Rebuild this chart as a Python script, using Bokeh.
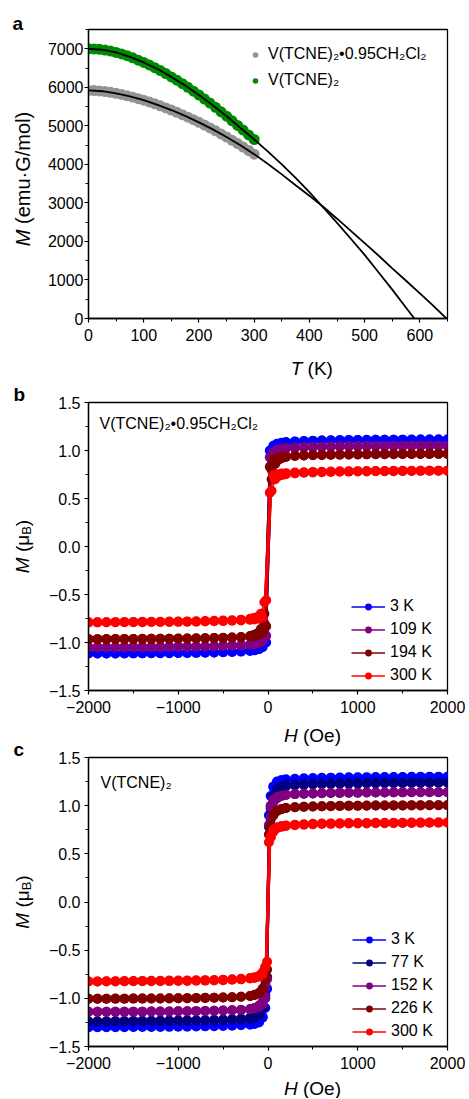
from math import pi
from bokeh.plotting import figure
from bokeh.models import (Range1d, FixedTicker, Label, Legend, LegendItem,
                          CustomJSTickFormatter)
from bokeh.layouts import column, row
from bokeh.embed import file_html
from bokeh.resources import INLINE

FONT = "Liberation Sans"
NB = "\u00a0"

# ---------------- Panel a data ----------------
T_meas = [0, 10, 20, 30, 40, 50, 60, 70, 80, 90, 100, 110, 120, 130, 140, 150,
          160, 170, 180, 190, 200, 210, 220, 230, 240, 250, 260, 270, 280, 290, 300]
M_solvate = [5920, 5915, 5905, 5890, 5870, 5845, 5815, 5780, 5745, 5705, 5665,
             5620, 5570, 5520, 5465, 5410, 5350, 5290, 5225, 5160, 5090, 5020,
             4945, 4870, 4790, 4710, 4625, 4540, 4450, 4360, 4265]
M_desolv = [7000, 6995, 6985, 6965, 6940, 6905, 6865, 6820, 6765, 6705, 6645,
            6580, 6510, 6435, 6355, 6270, 6185, 6095, 6000, 5900, 5800, 5695,
            5590, 5480, 5365, 5250, 5130, 5010, 4890, 4765, 4645]

T_fit_solvate = [0, 25, 50, 75, 100, 125, 150, 175, 200, 225, 250, 275, 300, 325,
                 350, 375, 400, 425, 450, 475, 500, 525, 550, 575, 600, 625, 648]
M_fit_solvate = [5920, 5898, 5845, 5762, 5665, 5545, 5410, 5258, 5090, 4908, 4710,
                 4495, 4265, 4010, 3740, 3460, 3185, 2900, 2590, 2275, 1955, 1635,
                 1300, 980, 650, 320, 0]
T_fit_desolv = [0, 25, 50, 75, 100, 125, 150, 175, 200, 225, 250, 275, 300, 325,
                350, 375, 400, 425, 450, 475, 500, 525, 550, 575, 590]
M_fit_desolv = [7000, 6975, 6905, 6790, 6645, 6475, 6270, 6045, 5800, 5535, 5250,
                4950, 4645, 4330, 4000, 3650, 3280, 2880, 2480, 2070, 1650, 1200,
                750, 280, 0]

LBL_SOLV = "V(TCNE)\u2082\u20220.95CH\u2082Cl\u2082"
LBL_DES = "V(TCNE)\u2082"

# ---------------- Panel b data (descending branch; ascending is its mirror) ----------------
H_b = [2000, 1900, 1800, 1700, 1600, 1500, 1400, 1300, 1200, 1100, 1000, 900, 800,
       700, 600, 500, 400, 300, 200, 150, 100, 60, 20, -40, -80, -120, -160, -200,
       -300, -400, -500, -600, -700, -800, -900, -1000, -1100, -1200, -1300, -1400,
       -1500, -1600, -1700, -1800, -1900, -2000]
M_b_3K = [1.115, 1.115, 1.115, 1.114, 1.114, 1.113, 1.113, 1.112, 1.112, 1.111, 1.110,
          1.109, 1.108, 1.106, 1.104, 1.102, 1.099, 1.095, 1.088, 1.082, 1.070, 1.050,
          1.000, -0.90, -1.03, -1.060, -1.075, -1.083, -1.092, -1.097, -1.100, -1.103,
          -1.105, -1.107, -1.108, -1.109, -1.110, -1.111, -1.112, -1.112, -1.113,
          -1.113, -1.114, -1.114, -1.115, -1.115]
M_b_109K = [1.050, 1.050, 1.050, 1.049, 1.049, 1.048, 1.048, 1.047, 1.047, 1.046, 1.045,
            1.044, 1.043, 1.041, 1.039, 1.037, 1.034, 1.030, 1.023, 1.017, 1.005, 0.985,
            0.93, -0.80, -0.96, -0.995, -1.010, -1.018, -1.027, -1.032, -1.035, -1.038,
            -1.040, -1.042, -1.043, -1.044, -1.045, -1.046, -1.047, -1.047, -1.048,
            -1.048, -1.049, -1.049, -1.050, -1.050]
M_b_194K = [0.965, 0.965, 0.965, 0.964, 0.964, 0.963, 0.963, 0.962, 0.962, 0.961, 0.960,
            0.959, 0.958, 0.956, 0.954, 0.952, 0.949, 0.945, 0.938, 0.932, 0.920, 0.900,
            0.83, -0.70, -0.86, -0.905, -0.922, -0.932, -0.942, -0.947, -0.950, -0.953,
            -0.955, -0.957, -0.958, -0.959, -0.960, -0.961, -0.962, -0.962, -0.963,
            -0.963, -0.964, -0.964, -0.965, -0.965]
M_b_300K = [0.790, 0.790, 0.790, 0.789, 0.789, 0.788, 0.788, 0.787, 0.787, 0.786, 0.785,
            0.784, 0.783, 0.781, 0.779, 0.777, 0.774, 0.770, 0.764, 0.760, 0.752, 0.740,
            0.56, -0.58, -0.70, -0.735, -0.745, -0.752, -0.762, -0.768, -0.771, -0.774,
            -0.776, -0.778, -0.780, -0.781, -0.782, -0.783, -0.784, -0.785, -0.786,
            -0.787, -0.788, -0.789, -0.790, -0.790]
labels_b = ["3 K", "109 K", "194 K", "300 K"]
colors_b = ["#0000ff", "#800080", "#800000", "#ff0000"]

# ---------------- Panel c data ----------------
H_c = [2000, 1900, 1800, 1700, 1600, 1500, 1400, 1300, 1200, 1100, 1000, 900, 800,
       700, 600, 500, 400, 300, 200, 150, 100, 60, 30, -10, -30, -60, -100, -150,
       -200, -300, -400, -500, -600, -700, -800, -900, -1000, -1100, -1200, -1300,
       -1400, -1500, -1600, -1700, -1800, -1900, -2000]
M_c_3K = [1.300, 1.300, 1.300, 1.299, 1.299, 1.298, 1.298, 1.297, 1.297, 1.296, 1.295,
          1.294, 1.293, 1.291, 1.289, 1.287, 1.284, 1.280, 1.273, 1.266, 1.250, 1.20,
          1.00, -0.90, -1.10, -1.19, -1.23, -1.250, -1.262, -1.272, -1.277, -1.280,
          -1.283, -1.285, -1.287, -1.288, -1.289, -1.290, -1.291, -1.292, -1.293,
          -1.294, -1.295, -1.296, -1.297, -1.298, -1.300]
M_c_77K = [1.240, 1.240, 1.240, 1.239, 1.239, 1.238, 1.238, 1.237, 1.237, 1.236, 1.235,
           1.234, 1.233, 1.231, 1.229, 1.227, 1.224, 1.220, 1.212, 1.200, 1.170, 1.10,
           0.86, -0.78, -0.97, -1.10, -1.16, -1.185, -1.200, -1.210, -1.216, -1.220,
           -1.223, -1.225, -1.227, -1.228, -1.229, -1.230, -1.231, -1.232, -1.233,
           -1.234, -1.235, -1.236, -1.237, -1.238, -1.240]
M_c_152K = [1.140, 1.140, 1.140, 1.139, 1.139, 1.138, 1.138, 1.137, 1.137, 1.136, 1.135,
            1.134, 1.133, 1.131, 1.129, 1.127, 1.124, 1.120, 1.112, 1.100, 1.075, 1.03,
            0.88, -0.80, -0.99, -1.06, -1.09, -1.103, -1.113, -1.120, -1.124, -1.127,
            -1.129, -1.131, -1.133, -1.134, -1.135, -1.136, -1.137, -1.137, -1.138,
            -1.138, -1.139, -1.139, -1.140, -1.140, -1.140]
M_c_226K = [1.005, 1.005, 1.005, 1.004, 1.004, 1.003, 1.003, 1.002, 1.002, 1.001, 1.000,
            0.999, 0.998, 0.996, 0.994, 0.992, 0.988, 0.983, 0.975, 0.965, 0.945, 0.90,
            0.76, -0.70, -0.80, -0.90, -0.945, -0.962, -0.975, -0.983, -0.988, -0.991,
            -0.993, -0.995, -0.997, -0.998, -0.999, -1.000, -1.001, -1.001, -1.002,
            -1.002, -1.003, -1.003, -1.004, -1.004, -1.005]
M_c_300K = [0.825, 0.825, 0.825, 0.824, 0.824, 0.823, 0.823, 0.822, 0.822, 0.821, 0.820,
            0.819, 0.818, 0.816, 0.814, 0.812, 0.808, 0.803, 0.795, 0.788, 0.775, 0.75,
            0.68, -0.62, -0.67, -0.73, -0.765, -0.780, -0.790, -0.798, -0.803, -0.806,
            -0.809, -0.811, -0.813, -0.814, -0.815, -0.816, -0.817, -0.818, -0.819,
            -0.820, -0.821, -0.822, -0.823, -0.824, -0.825]
labels_c = ["3 K", "77 K", "152 K", "226 K", "300 K"]
colors_c = ["#0000ff", "#000080", "#800080", "#800000", "#ff0000"]

# tick definitions
a_xticks = [0, 100, 200, 300, 400, 500, 600]
a_xminor = [50, 150, 250, 350, 450, 550, 650]
a_yticks = [0, 1000, 2000, 3000, 4000, 5000, 6000, 7000]
a_yminor = [500, 1500, 2500, 3500, 4500, 5500, 6500, 7500]
h_ticks = [-2000, -1000, 0, 1000, 2000]
h_minor = [-1500, -500, 500, 1500]
m_ticks = [-1.5, -1.0, -0.5, 0.0, 0.5, 1.0, 1.5]
m_minor = [-1.25, -0.75, -0.25, 0.25, 0.75, 1.25]

FMT0 = "return (tick < 0 ? '\\u2212' : '') + Math.abs(tick).toFixed(0);"
FMT1 = "return (tick < -1e-9 ? '\\u2212' : '') + Math.abs(tick).toFixed(1);"

STRIP_W = 44
MAIN_W = 421
TOTAL_H = 1098


def blank_fig(width, height):
    p = figure(width=width, height=height, x_range=Range1d(0, width),
               y_range=Range1d(0, height), output_backend="svg",
               toolbar_location=None, min_border=0,
               x_axis_location=None, y_axis_location=None)
    p.xgrid.visible = False
    p.ygrid.visible = False
    p.outline_line_color = None
    return p


def make_fig(height, top, bottom, left, xr, yr):
    p = figure(width=MAIN_W, height=height, x_range=Range1d(*xr), y_range=Range1d(*yr),
               output_backend="svg", toolbar_location=None,
               min_border_left=left, min_border_right=18,
               min_border_top=top, min_border_bottom=bottom)
    p.xgrid.visible = False
    p.ygrid.visible = False
    p.outline_line_color = "black"
    p.outline_line_width = 1.3
    p.outline_line_alpha = 1.0
    for ax in (p.xaxis[0], p.yaxis[0]):
        ax.axis_line_color = "black"
        ax.axis_line_width = 1.3
        ax.major_tick_line_color = "black"
        ax.minor_tick_line_color = "black"
        ax.major_tick_line_width = 1.2
        ax.minor_tick_line_width = 1.0
        ax.major_tick_out = 4
        ax.major_tick_in = 0
        ax.minor_tick_out = 3
        ax.minor_tick_in = 0
        ax.major_label_text_font = FONT
        ax.major_label_text_font_size = "16px"
        ax.major_label_text_color = "black"
    p.xaxis[0].major_label_standoff = 6
    return p


def lab(p, x, y, text, size="19px", style="normal", angle=0.0, align="left",
        baseline="middle"):
    p.add_layout(Label(x=x, y=y, x_units="screen", y_units="screen", text=text,
                       text_font=FONT, text_font_size=size, text_font_style=style,
                       angle=angle, text_align=align, text_baseline=baseline,
                       text_color="black"))


def style_legend(leg, glyph_w, spacing):
    leg.label_text_font = FONT
    leg.label_text_font_size = "16px"
    leg.label_text_color = "black"
    leg.border_line_color = None
    leg.background_fill_alpha = 0
    leg.glyph_width = glyph_w
    leg.glyph_height = 17
    leg.label_height = 17
    leg.label_standoff = 5 if glyph_w > 20 else 6
    leg.spacing = spacing
    leg.padding = 4
    leg.margin = 0


# ---------------- Panel a ----------------
pa = make_fig(350, 29, 32, 42, (0, 650), (0, 7500))
pa.yaxis[0].major_label_standoff = 1
pa.xaxis[0].ticker = FixedTicker(ticks=a_xticks, minor_ticks=a_xminor)
pa.yaxis[0].ticker = FixedTicker(ticks=a_yticks, minor_ticks=a_yminor)
pa.xaxis[0].formatter = CustomJSTickFormatter(code=FMT0)
pa.yaxis[0].formatter = CustomJSTickFormatter(code=FMT0)

r_solv = pa.scatter(T_meas, M_solvate, size=11, color="#939393", line_color=None)
r_des = pa.scatter(T_meas, M_desolv, size=11, color="#008a00", line_color=None)
pa.line(T_fit_solvate, M_fit_solvate, line_color="black", line_width=1.8)
pa.line(T_fit_desolv, M_fit_desolv, line_color="black", line_width=1.8)

leg_a = Legend(items=[LegendItem(label=LBL_SOLV, renderers=[r_solv]),
                      LegendItem(label=LBL_DES, renderers=[r_des])],
               location=(160, 229))
style_legend(leg_a, 14, 8)
pa.add_layout(leg_a)

xa = blank_fig(MAIN_W, 30)
lab(xa, 213.8, 12, "T", style="italic", align="right")
lab(xa, 213.8, 12, NB + "(K)", align="left")


def loop_fig(height, top, bottom, H, Ms, labels, colors, tag, tag_dx, tag_dy, leg_x):
    p = make_fig(height, top, bottom, 44, (-2000, 2000), (-1.5, 1.5))
    p.yaxis[0].major_label_standoff = 4
    p.xaxis[0].ticker = FixedTicker(ticks=h_ticks, minor_ticks=h_minor)
    p.yaxis[0].ticker = FixedTicker(ticks=m_ticks, minor_ticks=m_minor)
    p.xaxis[0].formatter = CustomJSTickFormatter(code=FMT0)
    p.yaxis[0].formatter = CustomJSTickFormatter(code=FMT1)
    items = []
    for M, lb, c in zip(Ms, labels, colors):
        hx = list(H) + [-h for h in H]
        my = list(M) + [-m for m in M]
        rl = p.line(hx, my, line_color=c, line_width=1.6)
        rs = p.scatter(hx, my, size=10, color=c, line_color=None)
        items.append(LegendItem(label=lb, renderers=[rl, rs]))
    leg = Legend(items=items, location=(leg_x, 6))
    style_legend(leg, 34, 5)
    p.add_layout(leg)
    fh = height - top - bottom
    lab(p, tag_dx, fh - tag_dy, tag, size="16px")
    return p


pb = loop_fig(340, 22, 30, H_b, [M_b_3K, M_b_109K, M_b_194K, M_b_300K],
              labels_b, colors_b, LBL_SOLV, 11, 21, 263)
xb = blank_fig(MAIN_W, 26)
lab(xb, 209.2, 11, "H", style="italic", align="right")
lab(xb, 209.2, 11, NB + "(Oe)", align="left")

pc = loop_fig(330, 11, 30, H_c, [M_c_3K, M_c_77K, M_c_152K, M_c_226K, M_c_300K],
              labels_c, colors_c, LBL_DES, 12, 25, 264)
xc = blank_fig(MAIN_W, 22)
lab(xc, 209.2, 10, "H", style="italic", align="right")
lab(xc, 209.2, 10, NB + "(Oe)", align="left")

# ---------------- left strip: panel letters and y-axis titles ----------------
strip = blank_fig(STRIP_W, TOTAL_H)
lab(strip, 12, TOTAL_H - 22.5, "a", style="bold", baseline="alphabetic")
lab(strip, 13, TOTAL_H - 394.0, "b", style="bold", baseline="alphabetic")
lab(strip, 13, TOTAL_H - 749.0, "c", style="bold", baseline="alphabetic")

ya_center = TOTAL_H - 178.5
ya_anchor = ya_center - 134.5 / 2 + 16.7
lab(strip, 22, ya_anchor, "M", size="20px", style="italic", angle=pi / 2, align="right")
lab(strip, 22, ya_anchor, NB + "(emu\u00b7G/mol)", size="20px", angle=pi / 2,
    align="left")

for page_center in (546.0, 901.5):
    start = TOTAL_H - page_center - 26.65
    lab(strip, 22, start + 15.8, "M", style="italic", angle=pi / 2, align="right")
    lab(strip, 22, start + 15.8, NB + "(\u03bc", angle=pi / 2, align="left")
    lab(strip, 26, start + 38.3, "B", size="13px", angle=pi / 2, align="left")
    lab(strip, 22, start + 47.0, ")", angle=pi / 2, align="left")

layout = row(strip, column(pa, xa, pb, xb, pc, xc, spacing=0), spacing=0)
open("out.html", "w").write(file_html(layout, INLINE))
